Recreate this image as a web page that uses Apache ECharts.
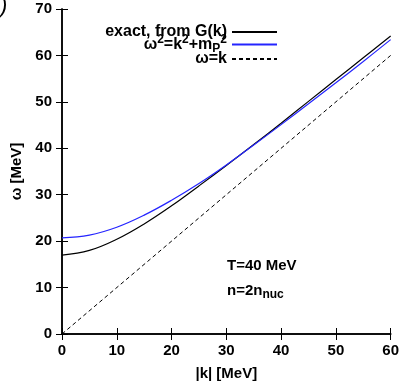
<!DOCTYPE html>
<html>
<head>
<meta charset="utf-8">
<script src="https://cdn.jsdelivr.net/npm/echarts@6/dist/echarts.min.js"></script>
<style>
  html, body { margin: 0; padding: 0; background: #fff; }
  #main { width: 402px; height: 386px; }
</style>
</head>
<body>
<div id="main"></div>
<script>
// momentum |k| in MeV
const kValues = [0, 5, 10, 15, 20, 25, 30, 35, 40, 45, 50, 55, 60];
// omega, MeV
const exactOmega = [17.0, 18.0, 20.4, 23.7, 27.6, 31.9, 36.3, 40.8, 45.4, 50.1, 54.8, 59.5, 64.2];
const massOmega = [20.7, 21.3, 23.0, 25.6, 28.8, 32.4, 36.4, 40.7, 45.1, 49.6, 54.1, 58.7, 63.4];
const lightOmega = [0, 60];
const lightK = [0, 60];

const xTicks = [0, 10, 20, 30, 40, 50, 60];
const yTicks = [0, 10, 20, 30, 40, 50, 60, 70];

const seriesNames = ['exact, from G(k)', 'mass', 'ω=k'];

const font = 'Liberation Sans';
const fs = 15;
const legendFs = 16;

function pairs(xs, ys) {
  return xs.map((x, i) => [x, ys[i]]);
}

const chart = echarts.init(document.getElementById('main'), null, { renderer: 'canvas' });

const axisCommon = {
  type: 'value',
  axisLine: { show: true, lineStyle: { color: '#000', width: 1.5 } },
  axisTick: { show: true, inside: true, length: 6, lineStyle: { color: '#000', width: 1 } },
  splitLine: { show: false }
};

const bold = { fontFamily: font, fontWeight: 'bold', fontSize: fs, color: '#000' };

// one legend per row so the rows can sit where they do in the picture
function legendRow(name, top) {
  return {
    orient: 'vertical',
    right: 124, top: top, padding: 0,
    align: 'right',
    itemWidth: 45, itemHeight: 8,
    itemStyle: { opacity: 0 },
    textStyle: {
      fontFamily: font, fontWeight: 'bold', fontSize: legendFs, color: '#000',
      rich: {
        b: { fontFamily: font, fontWeight: 'bold', fontSize: legendFs, color: '#000' },
        sup: { fontFamily: font, fontWeight: 'bold', fontSize: 12, color: '#000', padding: [0, 0, 9, 0] },
        sub: { fontFamily: font, fontWeight: 'bold', fontSize: 12, color: '#000', padding: [9, 0, 0, 0] }
      }
    },
    formatter: function (n) {
      if (n === 'mass') return '{b|ω}{sup|2}{b|=k}{sup|2}{b|+m}{sub|P}{sup|2}';
      return '{b|' + n + '}';
    },
    data: [name]
  };
}

const option = {
  backgroundColor: '#fff',
  animation: false,
  grid: { left: 62, right: 11, top: 9, bottom: 48 },
  xAxis: [
    Object.assign({}, axisCommon, {
      min: 0, max: 60, interval: 10,
      name: '|k| [MeV]', nameLocation: 'middle', nameGap: 32,
      nameTextStyle: bold,
      axisLabel: Object.assign({}, bold, { margin: 9,
        formatter: v => xTicks.includes(v) ? String(v) : '' })
    }),
    Object.assign({}, axisCommon, {
      position: 'top', min: 0, max: 60, interval: 10,
      axisLabel: { show: false }
    })
  ],
  yAxis: [
    Object.assign({}, axisCommon, {
      min: 0, max: 70, interval: 10,
      name: 'ω [MeV]', nameLocation: 'middle', nameGap: 38, nameRotate: 90,
      nameTextStyle: bold,
      axisLabel: Object.assign({}, bold, { margin: 10,
        formatter: v => yTicks.includes(v) ? String(v) : '' })
    }),
    Object.assign({}, axisCommon, {
      position: 'right', min: 0, max: 70, interval: 10,
      axisLabel: { show: false }
    })
  ],
  legend: [
    legendRow(seriesNames[0], 24),
    legendRow(seriesNames[1], 34),
    legendRow(seriesNames[2], 51)
  ],
  graphic: [
    {
      type: 'text', left: 227, top: 258,
      style: { text: 'T=40 MeV', fontFamily: font, fontWeight: 'bold', fontSize: fs, fill: '#000' }
    },
    {
      type: 'text', left: 227, top: 283,
      style: {
        text: '{b|n=2n}{sub|nuc}',
        rich: {
          b: { fontFamily: font, fontWeight: 'bold', fontSize: fs, fill: '#000' },
          sub: { fontFamily: font, fontWeight: 'bold', fontSize: 12, fill: '#000', padding: [8, 0, 0, 0] }
        }
      }
    },
    {
      type: 'text', left: 0, top: -4,
      style: { text: ')', fontFamily: font, fontStyle: 'italic', fontSize: 22, fill: '#000' }
    }
  ],
  series: [
    {
      name: seriesNames[0], type: 'line', smooth: 0.4, symbol: 'none',
      lineStyle: { color: '#000', width: 1.2 }, itemStyle: { color: '#000' },
      data: pairs(kValues, exactOmega)
    },
    {
      name: seriesNames[1], type: 'line', smooth: 0.4, symbol: 'none',
      lineStyle: { color: '#2424ff', width: 1.2 }, itemStyle: { color: '#2424ff' },
      data: pairs(kValues, massOmega)
    },
    {
      name: seriesNames[2], type: 'line', symbol: 'none',
      lineStyle: { color: '#000', width: 1, type: [4, 3] }, itemStyle: { color: '#000' },
      data: pairs(lightK, lightOmega)
    }
  ]
};

chart.setOption(option);
</script>
</body>
</html>
